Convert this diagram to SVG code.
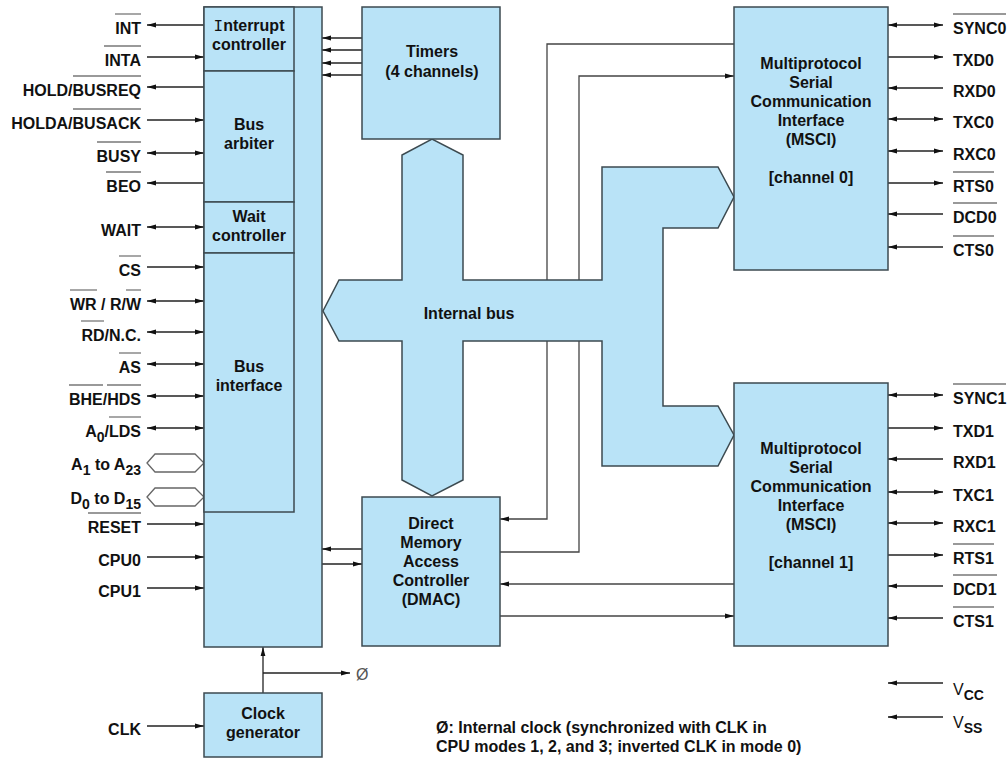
<svg xmlns="http://www.w3.org/2000/svg" width="1008" height="761" viewBox="0 0 1008 761">
<style>
.blk{fill:#b9e3f7;stroke:#3c4a50;stroke-width:1.5}
.t{font-family:"Liberation Sans",Arial,Helvetica,sans-serif;font-weight:bold;font-size:16px;fill:#111}
.c{text-anchor:middle}
.e{text-anchor:end}
.w{stroke:#222;stroke-width:1.3;fill:none}
.g{stroke:#444;stroke-width:1.3;fill:none}
.ol{stroke:#777;stroke-width:1.3}
.hex{fill:#fff;stroke:#666;stroke-width:1.3}
.sub{font-size:14px}
</style>
<defs>
<marker id="ah" viewBox="0 0 9 6" refX="9" refY="3" markerWidth="9" markerHeight="6" markerUnits="userSpaceOnUse" orient="auto-start-reverse">
<path d="M0,0.6 L9,3 L0,5.4 z" fill="#111"/>
</marker>
</defs>

<g id="connectors">
<!-- left signals -->
<path class="w" d="M204,25 H147" marker-end="url(#ah)"/>
<path class="w" d="M147,57 H204" marker-end="url(#ah)"/>
<path class="w" d="M204,87 H147" marker-end="url(#ah)"/>
<path class="w" d="M147,120 H204" marker-end="url(#ah)"/>
<path class="w" d="M147,153 H204" marker-start="url(#ah)" marker-end="url(#ah)"/>
<path class="w" d="M204,183 H147" marker-end="url(#ah)"/>
<path class="w" d="M147,227 H204" marker-start="url(#ah)" marker-end="url(#ah)"/>
<path class="w" d="M147,267 H204" marker-end="url(#ah)"/>
<path class="w" d="M147,301 H204" marker-start="url(#ah)" marker-end="url(#ah)"/>
<path class="w" d="M147,332 H204" marker-start="url(#ah)" marker-end="url(#ah)"/>
<path class="w" d="M147,364 H204" marker-start="url(#ah)" marker-end="url(#ah)"/>
<path class="w" d="M147,396 H204" marker-start="url(#ah)" marker-end="url(#ah)"/>
<path class="w" d="M147,428 H204" marker-start="url(#ah)" marker-end="url(#ah)"/>
<path class="w" d="M147,524 H204" marker-end="url(#ah)"/>
<path class="w" d="M147,557 H204" marker-end="url(#ah)"/>
<path class="w" d="M147,588 H204" marker-end="url(#ah)"/>
<path class="w" d="M147,726 H204" marker-end="url(#ah)"/>
<polygon class="hex" points="147,463 155,454 195,454 204,463 195,472 155,472"/>
<polygon class="hex" points="147,497 155,488 195,488 204,497 195,506 155,506"/>
<!-- clock -->
<path class="w" d="M263,693 V647" marker-end="url(#ah)"/>
<path class="w" d="M263,673 H350" marker-end="url(#ah)"/>
<!-- timers to cpu -->
<path class="w" d="M362,38 H322" marker-end="url(#ah)"/>
<path class="w" d="M362,50 H322" marker-end="url(#ah)"/>
<path class="w" d="M362,63 H322" marker-end="url(#ah)"/>
<path class="w" d="M362,75 H322" marker-end="url(#ah)"/>
<!-- dmac to cpu -->
<path class="w" d="M362,549 H322" marker-end="url(#ah)"/>
<path class="w" d="M322,564 H362" marker-end="url(#ah)"/>
<!-- msci0 <-> dmac -->
<path class="g" d="M734,44 H547 V519 H500" marker-end="url(#ah)"/>
<path class="g" d="M500,552 H579 V76 H734" marker-end="url(#ah)"/>
<!-- msci1 <-> dmac -->
<path class="g" d="M734,584 H500" marker-end="url(#ah)"/>
<path class="g" d="M500,616 H734" marker-end="url(#ah)"/>
<!-- right signals msci0 -->
<path class="w" d="M888,25 H943" marker-start="url(#ah)" marker-end="url(#ah)"/>
<path class="w" d="M888,57 H943" marker-end="url(#ah)"/>
<path class="w" d="M943,88 H888" marker-end="url(#ah)"/>
<path class="w" d="M888,119 H943" marker-start="url(#ah)" marker-end="url(#ah)"/>
<path class="w" d="M888,151 H943" marker-start="url(#ah)" marker-end="url(#ah)"/>
<path class="w" d="M888,183 H943" marker-end="url(#ah)"/>
<path class="w" d="M943,214 H888" marker-end="url(#ah)"/>
<path class="w" d="M943,247 H888" marker-end="url(#ah)"/>
<!-- right signals msci1 -->
<path class="w" d="M888,395 H943" marker-start="url(#ah)" marker-end="url(#ah)"/>
<path class="w" d="M888,428 H943" marker-end="url(#ah)"/>
<path class="w" d="M943,459 H888" marker-end="url(#ah)"/>
<path class="w" d="M888,492 H943" marker-start="url(#ah)" marker-end="url(#ah)"/>
<path class="w" d="M888,523 H943" marker-start="url(#ah)" marker-end="url(#ah)"/>
<path class="w" d="M888,555 H943" marker-end="url(#ah)"/>
<path class="w" d="M943,586 H888" marker-end="url(#ah)"/>
<path class="w" d="M943,618 H888" marker-end="url(#ah)"/>
<!-- power -->
<path class="w" d="M943,683 H888" marker-end="url(#ah)"/>
<path class="w" d="M943,717 H888" marker-end="url(#ah)"/>
</g>

<g id="internal-bus">
<polygon class="blk" stroke-width="1.3" points="339,280 402,280 402,155 432,139 463,155 463,280 602,280 602,167 718,167 734,197 718,228 663,228 663,406 718,406 734,435 718,466 602,466 602,341 463,341 463,480 432,496 402,480 402,341 339,341 323,311"/>
<text class="t c" x="469" y="319">Internal bus</text>
</g>

<g id="cpu">
<rect class="blk" x="204" y="7" width="118" height="640"/>
<g id="interrupt-controller">
<rect class="blk" x="204" y="7" width="90" height="64"/>
<text class="t c" x="249" y="31"><tspan font-family="'Liberation Mono',monospace" font-weight="normal">I</tspan>nterrupt</text>
<text class="t c" x="249" y="50">controller</text>
</g>
<g id="bus-arbiter">
<rect class="blk" x="204" y="71" width="90" height="131"/>
<text class="t c" x="249" y="130">Bus</text>
<text class="t c" x="249" y="149">arbiter</text>
</g>
<g id="wait-controller">
<rect class="blk" x="204" y="202" width="90" height="51"/>
<text class="t c" x="249" y="222">Wait</text>
<text class="t c" x="249" y="241">controller</text>
</g>
<g id="bus-interface">
<rect class="blk" x="204" y="253" width="90" height="259"/>
<text class="t c" x="249" y="372">Bus</text>
<text class="t c" x="249" y="391">interface</text>
</g>
</g>

<g id="clock-generator">
<rect class="blk" x="204" y="693" width="118" height="64"/>
<text class="t c" x="263" y="719">Clock</text>
<text class="t c" x="263" y="738">generator</text>
</g>

<g id="timers">
<rect class="blk" x="362" y="7" width="138" height="132"/>
<text class="t c" x="432" y="57">Timers</text>
<text class="t c" x="432" y="77">(4 channels)</text>
</g>

<g id="dmac">
<rect class="blk" x="362" y="497" width="138" height="149"/>
<text class="t c" x="431" y="529">Direct</text>
<text class="t c" x="431" y="548">Memory</text>
<text class="t c" x="431" y="567">Access</text>
<text class="t c" x="431" y="586">Controller</text>
<text class="t c" x="431" y="605">(DMAC)</text>
</g>

<g id="msci0">
<rect class="blk" x="734" y="7" width="154" height="263"/>
<text class="t c" x="811" y="69">Multiprotocol</text>
<text class="t c" x="811" y="88">Serial</text>
<text class="t c" x="811" y="107">Communication</text>
<text class="t c" x="811" y="126">Interface</text>
<text class="t c" x="811" y="145">(MSCI)</text>
<text class="t c" x="811" y="183">[channel 0]</text>
</g>

<g id="msci1">
<rect class="blk" x="734" y="383" width="154" height="263"/>
<text class="t c" x="811" y="454">Multiprotocol</text>
<text class="t c" x="811" y="473">Serial</text>
<text class="t c" x="811" y="492">Communication</text>
<text class="t c" x="811" y="511">Interface</text>
<text class="t c" x="811" y="530">(MSCI)</text>
<text class="t c" x="811" y="568">[channel 1]</text>
</g>

<g id="left-signals">
<text class="t e" x="141" y="34">INT</text>
<text class="t e" x="141" y="66">INTA</text>
<text class="t e" x="141" y="96">HOLD/BUSREQ</text>
<text class="t e" x="141" y="129">HOLDA/BUSACK</text>
<text class="t e" x="141" y="162">BUSY</text>
<text class="t e" x="141" y="192">BEO</text>
<text class="t e" x="141" y="236">WAIT</text>
<text class="t e" x="141" y="276">CS</text>
<text class="t e" x="141" y="310">WR / R/W</text>
<text class="t e" x="141" y="341">RD/N.C.</text>
<text class="t e" x="141" y="373">AS</text>
<text class="t e" x="141" y="405">BHE/HDS</text>
<text class="t e" x="141" y="437">A<tspan class="sub" dy="5">0</tspan><tspan dy="-5">/LDS</tspan></text>
<text class="t e" x="141" y="470">A<tspan class="sub" dy="5">1</tspan><tspan dy="-5"> to A</tspan><tspan class="sub" dy="5">23</tspan></text>
<text class="t e" x="141" y="504">D<tspan class="sub" dy="5">0</tspan><tspan dy="-5"> to D</tspan><tspan class="sub" dy="5">15</tspan></text>
<text class="t e" x="141" y="533">RESET</text>
<text class="t e" x="141" y="566">CPU0</text>
<text class="t e" x="141" y="597">CPU1</text>
<text class="t e" x="141" y="735">CLK</text>
<g class="ol">
<line x1="115" y1="14" x2="141" y2="14"/>
<line x1="104" y1="46" x2="141" y2="46"/>
<line x1="73" y1="76" x2="141" y2="76"/>
<line x1="73" y1="109" x2="141" y2="109"/>
<line x1="97" y1="142" x2="141" y2="142"/>
<line x1="106" y1="172" x2="141" y2="172"/>
<line x1="119" y1="256" x2="141" y2="256"/>
<line x1="70" y1="290" x2="97" y2="290"/>
<line x1="126" y1="290" x2="141" y2="290"/>
<line x1="81" y1="321" x2="104" y2="321"/>
<line x1="119" y1="353" x2="141" y2="353"/>
<line x1="69" y1="385" x2="103" y2="385"/>
<line x1="107" y1="385" x2="141" y2="385"/>
<line x1="109" y1="417" x2="141" y2="417"/>
<line x1="88" y1="513" x2="141" y2="513"/>
</g>
</g>

<g id="right-signals">
<text class="t" x="953" y="34">SYNC0</text>
<text class="t" x="953" y="66">TXD0</text>
<text class="t" x="953" y="97">RXD0</text>
<text class="t" x="953" y="128">TXC0</text>
<text class="t" x="953" y="160">RXC0</text>
<text class="t" x="953" y="192">RTS0</text>
<text class="t" x="953" y="223">DCD0</text>
<text class="t" x="953" y="256">CTS0</text>
<text class="t" x="953" y="404">SYNC1</text>
<text class="t" x="953" y="437">TXD1</text>
<text class="t" x="953" y="468">RXD1</text>
<text class="t" x="953" y="501">TXC1</text>
<text class="t" x="953" y="532">RXC1</text>
<text class="t" x="953" y="564">RTS1</text>
<text class="t" x="953" y="595">DCD1</text>
<text class="t" x="953" y="627">CTS1</text>
<text class="t" x="953" y="695"><tspan font-weight="normal">V</tspan><tspan class="sub" dy="5">CC</tspan></text>
<text class="t" x="953" y="728"><tspan font-weight="normal">V</tspan><tspan class="sub" dy="5">SS</tspan></text>
<g class="ol">
<line x1="953" y1="14" x2="1006" y2="14"/>
<line x1="953" y1="172" x2="994" y2="172"/>
<line x1="953" y1="203" x2="997" y2="203"/>
<line x1="953" y1="236" x2="994" y2="236"/>
<line x1="953" y1="384" x2="1006" y2="384"/>
<line x1="953" y1="544" x2="994" y2="544"/>
<line x1="953" y1="575" x2="997" y2="575"/>
<line x1="953" y1="607" x2="994" y2="607"/>
</g>
</g>

<g id="notes">
<text x="356" y="680" font-family="'Liberation Sans',Arial,sans-serif" font-size="16" fill="#555">Ø</text>
<text class="t" x="436" y="733">Ø: Internal clock (synchronized with CLK in</text>
<text class="t" x="436" y="752">CPU modes 1, 2, and 3; inverted CLK in mode 0)</text>
</g>
</svg>
